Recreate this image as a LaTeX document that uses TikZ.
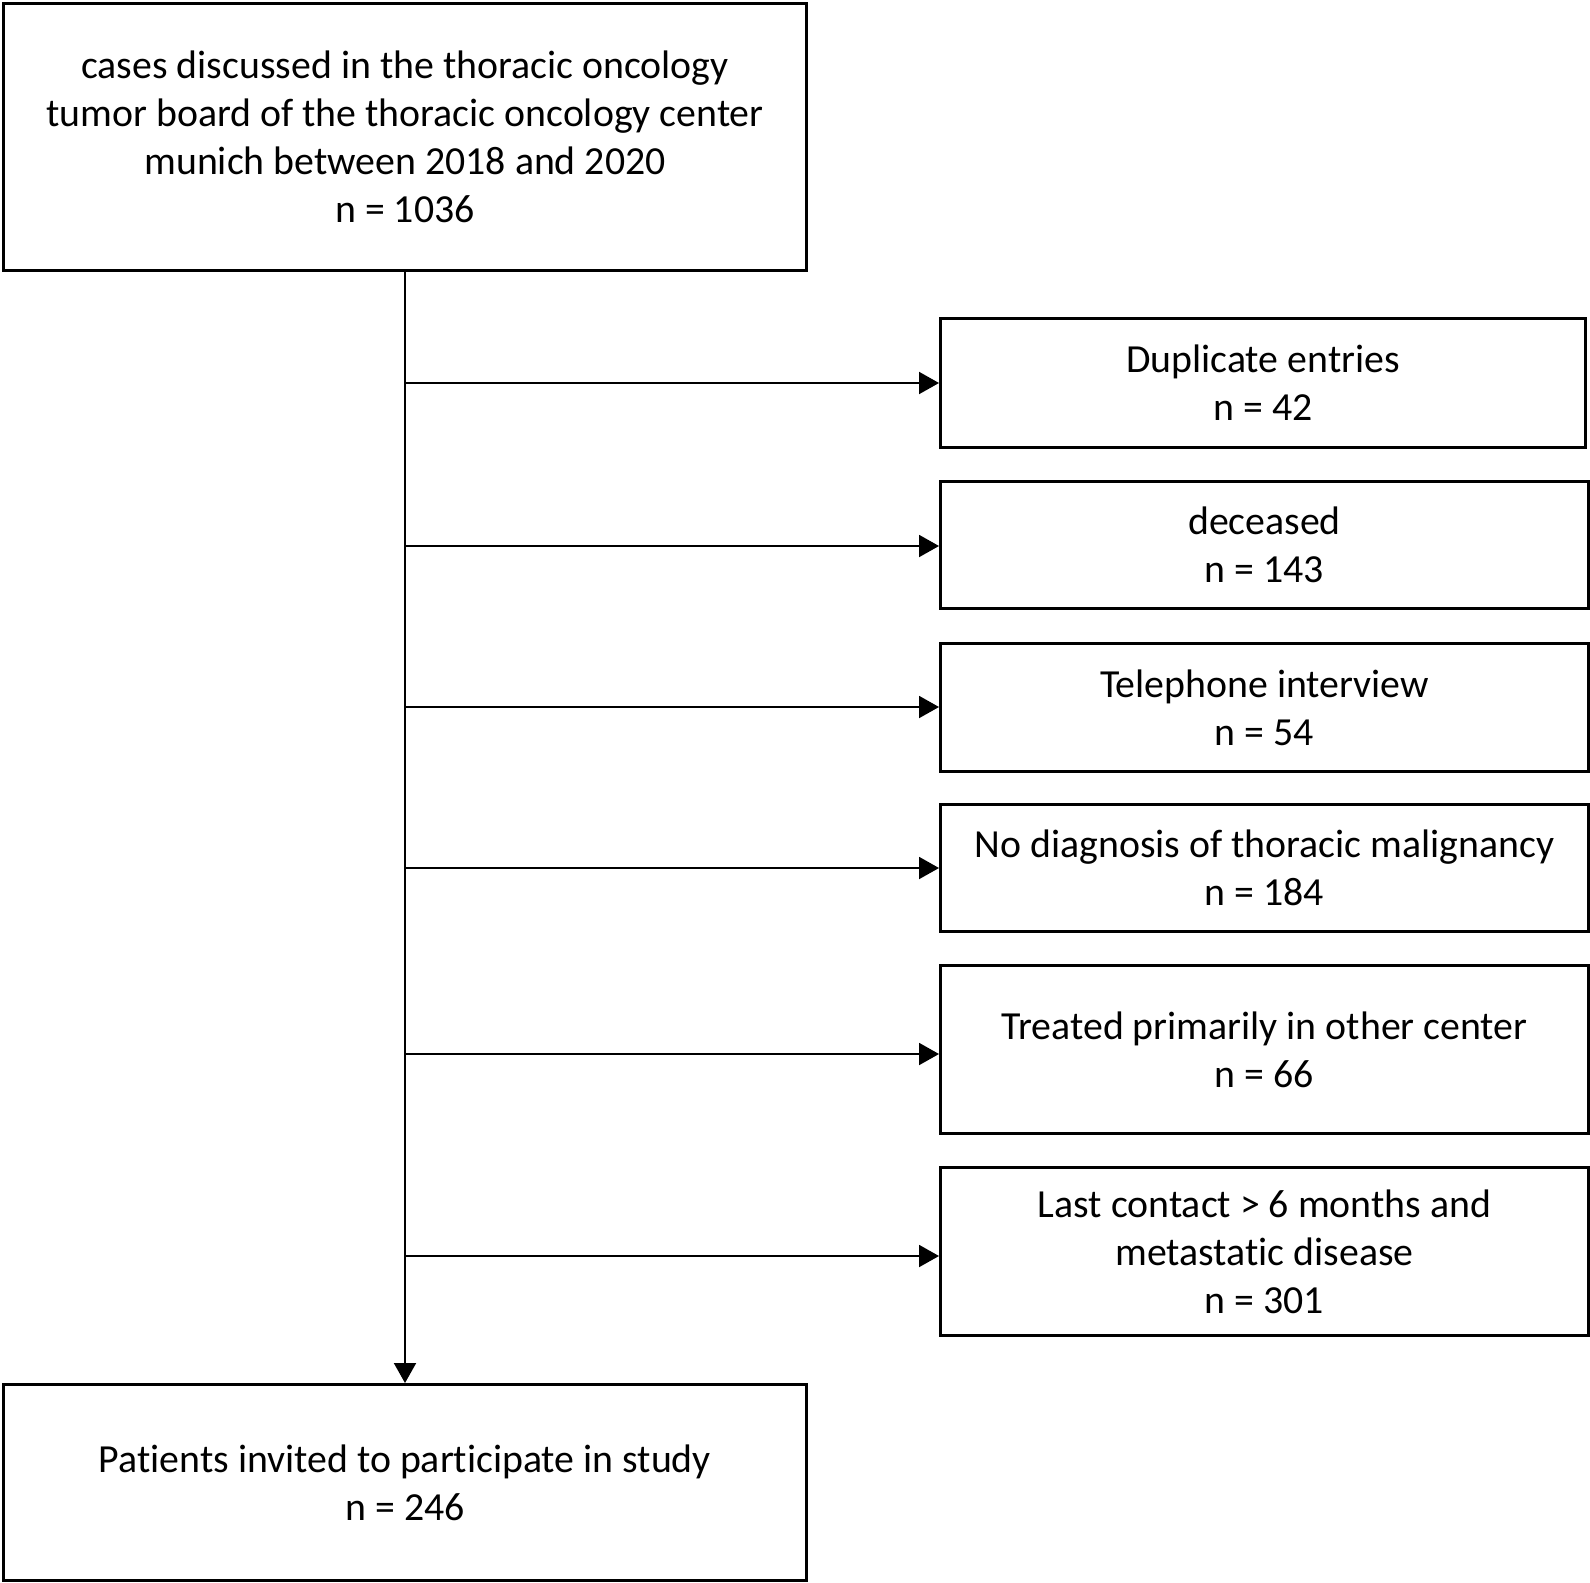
\documentclass[tikz,border=0pt]{standalone}
\usepackage{fontspec}
\setmainfont{Carlito}[Ligatures={NoCommon,TeX}]
\usetikzlibrary{arrows.meta}
\begin{document}
\begin{tikzpicture}[x=1pt,y=-1pt,
  box/.style={draw=black, line width=3pt, anchor=north west, align=center, inner sep=0pt,
    font=\fontsize{39.8}{48}\selectfont},
  conn/.style={line width=2pt, -{Triangle[length=20pt,width=22pt]}}]
\useasboundingbox[fill=white] (0,0) rectangle (1590,1582);
\node[box, minimum width=803pt, minimum height=267pt] (top) at (2,2)
  {cases discussed in the thoracic oncology\\tumor board of the thoracic oncology center\\munich between 2018 and 2020\\n = 1036};
\node[box, minimum width=803pt, minimum height=196pt] (bot) at (2,1383)
  {Patients invited to participate in study\\n = 246};
\node[box, minimum width=645pt, minimum height=129pt] (b1) at (939,317) {Duplicate entries\\n = 42};
\node[box, minimum width=648pt, minimum height=127pt] (b2) at (939,480) {deceased\\n = 143};
\node[box, minimum width=648pt, minimum height=128pt] (b3) at (939,642) {Telephone interview\\n = 54};
\node[box, minimum width=648pt, minimum height=127pt] (b4) at (939,803) {No diagnosis of thoracic malignancy\\n = 184};
\node[box, minimum width=648pt, minimum height=168pt] (b5) at (939,964) {Treated primarily in other center\\n = 66};
\node[box, minimum width=648pt, minimum height=168pt] (b6) at (939,1166) {Last contact > 6 months and\\metastatic disease\\n = 301};
\draw[conn] (top.south -| 405,0) -- (bot.north -| 405,0);
\foreach \b/\yy in {b1/383,b2/546,b3/707,b4/868,b5/1054,b6/1256}{
  \coordinate (s\b) at (405,\yy);
  \draw[conn] (s\b) -- (s\b -| \b.west);
}
\end{tikzpicture}
\end{document}
